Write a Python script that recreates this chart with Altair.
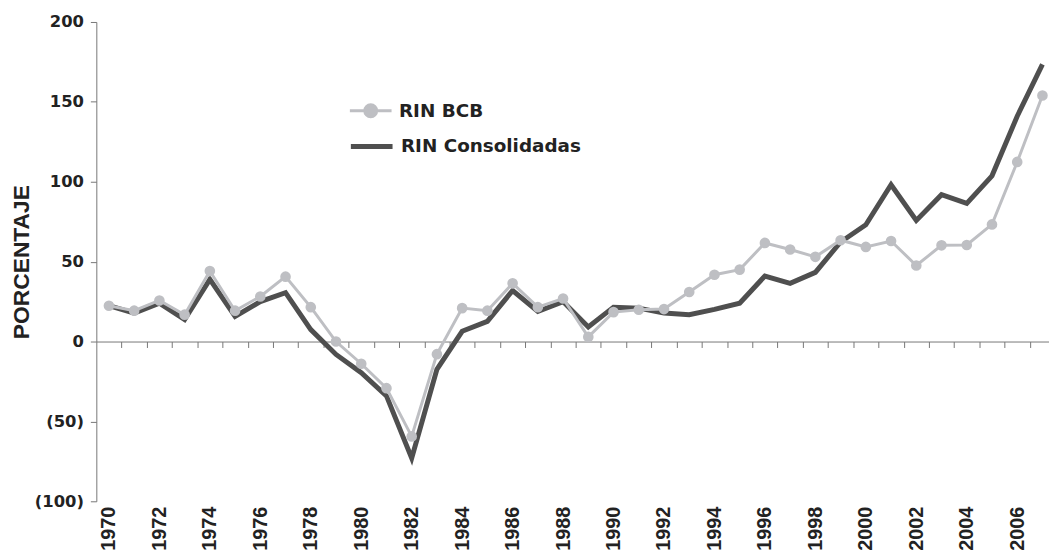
import altair as alt
import pandas as pd

years = list(range(1970, 2008))
rin_bcb = [22.4, 19.3, 25.7, 16.8, 44.1, 19.3, 28.2, 40.6, 21.5, 0.0,
           -13.9, -29.2, -59.4, -7.9, 20.9, 19.3, 36.4, 21.5, 26.9, 2.9,
           18.4, 19.9, 20.3, 31.0, 41.8, 45.0, 61.7, 57.6, 53.0, 63.4,
           59.2, 62.9, 47.6, 60.2, 60.4, 73.3, 112.4, 154.0]
rin_cons = [22.4, 17.8, 24.0, 13.7, 38.9, 15.7, 25.0, 30.6, 7.5, -8.1,
            -19.5, -34.0, -73.0, -17.4, 6.4, 12.6, 31.9, 18.8, 25.0, 9.1,
            21.5, 20.9, 17.8, 16.8, 20.1, 24.0, 41.0, 36.4, 43.3, 62.3,
            73.1, 98.1, 75.8, 91.9, 86.5, 103.7, 141.0, 173.5]
series = ["RIN BCB", "RIN Consolidadas"]
label_years = list(range(1970, 2007, 2))
y_ticks = [200, 150, 100, 50, 0, -50, -100]

df = pd.DataFrame({
    "anio": years * 2,
    "valor": rin_bcb + rin_cons,
    "serie": [series[0]] * len(years) + [series[1]] * len(years),
})

GRAY = "#bebfc3"
DARK = "#4f4f4f"
TXT = "#222222"
AX = "#777777"
W, H = 960, 483
Y_MIN, Y_MAX = -100, 200

xscale = alt.Scale(domain=[1969.5, 2007.26], nice=False, zero=False)
yscale = alt.Scale(domain=[Y_MIN, Y_MAX], nice=False, zero=False)
zero_offset = -H * (0 - Y_MIN) / (Y_MAX - Y_MIN)

label_axis = alt.Axis(values=label_years, format="d", labelAngle=-90,
                      labelFont="Liberation Sans", labelFontWeight="bold",
                      labelFontSize=20, labelColor=TXT, labelPadding=5,
                      ticks=False, domain=False, grid=False, title=None,
                      orient="bottom")
tick_axis = alt.Axis(values=[y + 0.5 for y in range(1970, 2007)], labels=False,
                     ticks=True, tickSize=6, tickColor=AX, tickWidth=1,
                     domain=True, domainColor=AX, domainWidth=1, grid=False,
                     title=None, offset=zero_offset, orient="bottom")
y_axis = alt.Axis(values=y_ticks,
                  labelExpr="datum.value < 0 ? '(' + abs(datum.value) + ')' : '' + datum.value",
                  labelFont="DejaVu Sans", labelFontWeight="bold", labelFontSize=16.5,
                  labelColor=TXT, labelPadding=7, tickSize=6, tickColor=AX,
                  domainColor=AX, grid=False, title="PORCENTAJE",
                  titleFont="Liberation Sans", titleFontSize=23, titleFontWeight="bold",
                  titleColor=TXT, titlePadding=1)

LINE_PATH = "M-2.1,0H2.1"
DOT_PATH = "M-2.1,0H2.1M0.6,0A0.6,0.6,0,1,1,-0.6,0A0.6,0.6,0,1,1,0.6,0"
leg_common = dict(orient="none", title=None, symbolSize=400,
                  labelFont="DejaVu Sans", labelFontSize=18.5, labelFontWeight="bold",
                  labelColor=TXT, labelOffset=17, labelLimit=400, padding=0,
                  symbolOpacity=1)
leg_bcb = alt.Legend(legendX=265, legendY=78, symbolType=DOT_PATH,
                     symbolStrokeColor=GRAY, symbolFillColor=GRAY,
                     symbolStrokeWidth=3, **leg_common)
leg_cons = alt.Legend(legendX=265, legendY=113, symbolType=LINE_PATH,
                      symbolStrokeWidth=5, **leg_common)

y_enc = alt.Y("valor:Q", scale=yscale, axis=y_axis)
base = alt.Chart(df)

dark = base.transform_filter("datum.serie == 'RIN Consolidadas'").mark_line(strokeWidth=5).encode(
    x=alt.X("anio:Q", scale=xscale, axis=label_axis), y=y_enc,
    color=alt.Color("serie:N", scale=alt.Scale(domain=[series[1]], range=[DARK]), legend=leg_cons))
gray_line = base.transform_filter("datum.serie == 'RIN BCB'").mark_line(strokeWidth=3).encode(
    x=alt.X("anio:Q", scale=xscale, axis=tick_axis), y=y_enc,
    color=alt.Color("serie:N", scale=alt.Scale(domain=[series[0]], range=[GRAY]), legend=None))
gray_pts = base.transform_filter("datum.serie == 'RIN BCB'").mark_circle(size=115, opacity=1).encode(
    x=alt.X("anio:Q", scale=xscale, axis=None), y=y_enc,
    color=alt.Color("serie:N", scale=alt.Scale(domain=[series[0]], range=[GRAY]), legend=leg_bcb))

chart = alt.layer(dark, gray_line, gray_pts).resolve_axis(x="independent").resolve_scale(
    color="independent").properties(
    width=W, height=H,
    padding={"left": 89, "top": 12, "right": 0, "bottom": 47},
    autosize=alt.AutoSizeParams(type="none"),
    background="white",
).configure_view(stroke=None)

chart.save("out.html", embed_options={"renderer": "svg", "actions": False})
